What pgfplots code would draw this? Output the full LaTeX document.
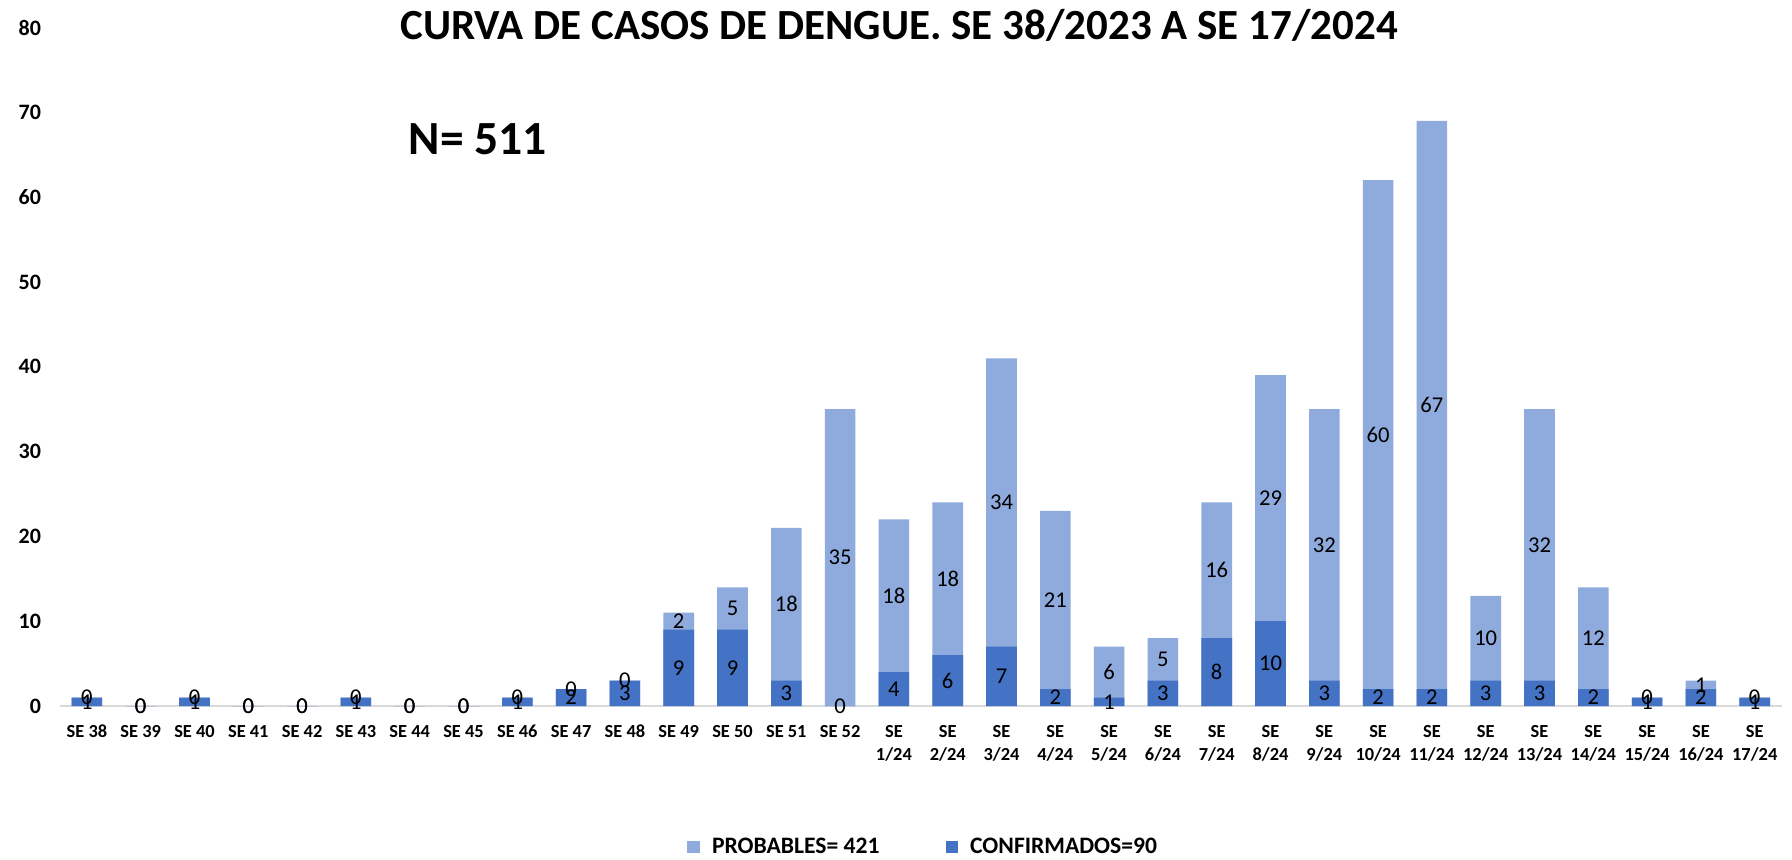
\documentclass[border=0pt]{standalone}
\usepackage{pgfplots}
\usepackage{pgfplotstable}
\pgfplotsset{compat=1.18}
\usepackage{fontspec}
\setmainfont{Carlito}
\definecolor{probc}{HTML}{8FAADC}
\definecolor{confc}{HTML}{4472C4}
\definecolor{axisc}{HTML}{D9D9D9}

\pgfplotstableread{
x conf prob
0 1 0
1 0 0
2 1 0
3 0 0
4 0 0
5 1 0
6 0 0
7 0 0
8 1 0
9 2 0
10 3 0
11 9 2
12 9 5
13 3 18
14 0 35
15 4 18
16 6 18
17 7 34
18 2 21
19 1 6
20 3 5
21 8 16
22 10 29
23 3 32
24 2 60
25 2 67
26 3 10
27 3 32
28 2 12
29 1 0
30 2 1
31 1 0
}\data

\begin{document}
\begin{tikzpicture}
\useasboundingbox (-30pt,-76.5pt) rectangle (866pt,353pt);
\begin{axis}[
  at={(0,0)}, anchor=south west,
  scale only axis,
  width=860.8pt, height=339.25pt,
  xmin=-0.5, xmax=31.5,
  ymin=0, ymax=80,
  ytick={0,10,...,80},
  xtick={0,...,31},
  xticklabels={SE 38,SE 39,SE 40,SE 41,SE 42,SE 43,SE 44,SE 45,SE 46,SE 47,SE 48,SE 49,SE 50,SE 51,SE 52,
    SE\\1/24,SE\\2/24,SE\\3/24,SE\\4/24,SE\\5/24,SE\\6/24,SE\\7/24,SE\\8/24,SE\\9/24,SE\\10/24,SE\\11/24,SE\\12/24,SE\\13/24,SE\\14/24,SE\\15/24,SE\\16/24,SE\\17/24},
  xticklabel style={font=\fontsize{9.2}{11.5}\selectfont\bfseries, align=center, anchor=north, yshift=-6pt},
  yticklabel style={font=\fontsize{11}{13}\selectfont\bfseries, anchor=east, xshift=-6pt},
  /pgf/number format/assume math mode=true,
  major tick length=0pt,
  axis x line*=bottom,
  axis y line*=left,
  y axis line style={draw=none},
  x axis line style={draw=axisc, line width=1.2pt, -},
  axis line style={-},
  clip=false,
  legend style={at={(0.502,-0.2078)}, anchor=center, draw=none, fill=none,
    legend columns=2, font=\fontsize{11.8}{14}\selectfont\bfseries,
    /tikz/every odd column/.append style={column sep=4pt},
    /tikz/every even column/.append style={column sep=31pt}},
  legend image code/.code={\fill[#1] (0pt,-3.15pt) rectangle (6.3pt,3.15pt);},
]
\addplot[ybar, bar shift=0pt, bar width=15.3pt, fill=probc, draw=none]
  table[x=x, y expr=\thisrow{conf}+\thisrow{prob}] {\data};
\addlegendentry{PROBABLES= 421}
\addplot[ybar, bar shift=0pt, bar width=15.3pt, fill=confc, draw=none]
  table[x=x, y=conf] {\data};
\addlegendentry{CONFIRMADOS=90}
\addplot[draw=none, mark=none, forget plot, nodes near coords, point meta=explicit,
  nodes near coords align={center},
  every node near coord/.append style={font=\fontsize{11.3}{13}\selectfont, anchor=center, inner sep=0pt, /pgf/number format/assume math mode=true}]
  table[x=x, y expr=\thisrow{conf}/2, meta=conf] {\data};
\addplot[draw=none, mark=none, forget plot, nodes near coords, point meta=explicit,
  nodes near coords align={center},
  every node near coord/.append style={font=\fontsize{11.3}{13}\selectfont, anchor=center, inner sep=0pt, /pgf/number format/assume math mode=true}]
  table[x=x, y expr=\thisrow{conf}+\thisrow{prob}/2, meta=prob] {\data};
\end{axis}
\node[font=\fontsize{21.5}{26}\selectfont\bfseries] at (419.5pt,340.5pt) {CURVA DE CASOS DE DENGUE. SE 38/2023 A SE 17/2024};
\node[font=\fontsize{23.8}{28}\selectfont\bfseries] at (208.9pt,283.3pt) {N= 511};
\end{tikzpicture}
\end{document}
